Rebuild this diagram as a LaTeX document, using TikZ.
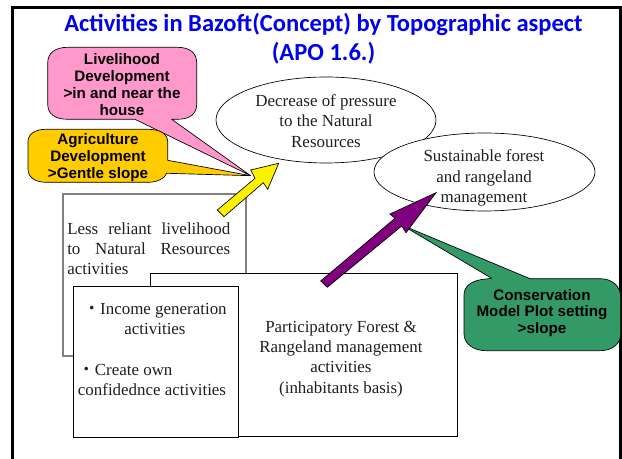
\documentclass[tikz,border=0pt]{standalone}
\usepackage{fontspec}
\setmainfont{Liberation Serif}
\newfontfamily\hd{Carlito}
\newfontfamily\ar{Liberation Sans}
\newfontfamily\cjk{Noto Sans CJK JP}
\usetikzlibrary{shapes.geometric}
\definecolor{ttl}{RGB}{0,0,240}
\definecolor{pnk}{RGB}{255,153,204}
\definecolor{gld}{RGB}{255,204,0}
\definecolor{grn}{RGB}{51,153,102}
\definecolor{prp}{RGB}{128,0,128}
\definecolor{gry}{RGB}{128,128,128}
\tikzset{x=0.75pt,y=-0.75pt,
 lbl/.style={font=\ar\bfseries\fontsize{11.4pt}{12.6pt}\selectfont,align=center,inner sep=0,text=black},
 serif/.style={font=\fontsize{12.7pt}{15.2pt}\selectfont,align=center,inner sep=0,text=black!88},
 oval/.style={draw=black,fill=white,ellipse,line width=0.5pt,inner sep=0},
 callout/.style={draw=black,line width=0.5pt,line join=round},
 arrowshape/.style={draw=black,line width=0.5pt,line join=miter},
 sbox/.style={draw=black,fill=white,line width=0.75pt,inner sep=0,anchor=north west},
 gbox/.style={draw=gry,fill=white,line width=1.2pt,inner sep=0,anchor=north west}}
\begin{document}
\begin{tikzpicture}
\useasboundingbox (0,0) rectangle (622,459);
\fill[white] (0,0) rectangle (622,459);
\draw[line width=2.2pt] (12.5,7.5) rectangle (620.5,475);
\node[font=\hd\bfseries\fontsize{18.4pt}{21.7pt}\selectfont,text=ttl,align=center,inner sep=0] (title) at (323.5,39) {Activities in Bazoft(Concept) by Topographic aspect\\(APO 1.6.)};
% ellipses
\node[oval,minimum width=220*0.75pt,minimum height=86*0.75pt] (e1) at (326,120) {};
\node[serif] (e1t) at (326,121) {Decrease of pressure\\to the Natural\\Resources};
\node[oval,minimum width=221*0.75pt,minimum height=78*0.75pt] (e2) at (484.5,172) {};
\node[serif] (e2t) at (484,178) {Sustainable forest\\and rangeland\\management};
% callouts
\draw[callout,fill=pnk] (68,47.3) .. controls (55,47.3) and (47.7,53) .. (47.7,63) -- (47.7,104) .. controls (47.7,114) and (55,119.3) .. (68,119.3) -- (135,119.3) -- (250.7,175.7) -- (171.7,119.3) -- (177,119.3) .. controls (190,119.3) and (196.7,114) .. (196.7,104) -- (196.7,63) .. controls (196.7,53) and (190,47.3) .. (177,47.3) -- cycle;
\node[lbl] (pk) at (122,84.5) {Livelihood\\Development\\\textgreater in and near the\\house};
\draw[callout,fill=gld] (46,129.3) .. controls (35,129.3) and (28,134) .. (28,142) -- (28,169) .. controls (28,177) and (35,182.3) .. (46,182.3) -- (148,182.3) .. controls (158,182.3) and (165,178) .. (166.7,173.3) -- (250.7,175.7) -- (167.7,160.3) -- (167.7,142) .. controls (167.7,134) and (160,129.3) .. (148,129.3) -- cycle;
\node[lbl] (gd) at (98,157.5) {Agriculture\\Development\\\textgreater Gentle slope};
\draw[callout,fill=grn] (486,279) .. controls (472,280) and (464,286) .. (464,295) -- (464,334) .. controls (464,344) and (474,350.7) .. (486,350.7) -- (600,350.7) .. controls (612,350.7) and (620.7,344) .. (620.7,334) -- (620.7,297) .. controls (620.7,286) and (612,278.7) .. (600,278.7) -- (530,278.7) -- (401.7,225) -- (491.7,278.3) -- cycle;
\node[lbl] (gn) at (542,313) {Conservation\\Model Plot setting\\\textgreater slope};
% boxes
\node[gbox,minimum width=183*0.75pt,minimum height=162*0.75pt] (b1) at (62,193) {};
\node[serif,text width=163*0.75pt,align=left,anchor=west] (b1t) at (67,248.5) {Less\hfill reliant\hfill livelihood\\to\hfill Natural\hfill Resources\\activities};
\node[sbox,minimum width=307*0.75pt,minimum height=163*0.75pt] (b2) at (150,273.5) {};
\node[serif] (b2t) at (341,359) {Participatory Forest \&\\Rangeland management\\activities\\(inhabitants basis)};
\node[sbox,minimum width=165*0.75pt,minimum height=151*0.75pt] (b3) at (73,286) {};
\node[serif] (b3a) at (155,319) {{\cjk ・}Income generation\\activities};
\node[serif,align=left] (b3b) at (152,380) {{\cjk ・}Create own\\confidednce activities};
% block arrows
\draw[arrowshape,fill=yellow] (224,216.7) -- (217.3,210) -- (255,178.3) -- (250.7,170) -- (278.7,163.3) -- (267.7,189.3) -- (263.3,182.7) -- cycle;
\draw[arrowshape,fill=prp] (327.3,287.3) -- (320.7,281) -- (395,218.3) -- (390,214) -- (436,192.7) -- (406,232.7) -- (401.7,226) -- cycle;
\end{tikzpicture}
\end{document}
